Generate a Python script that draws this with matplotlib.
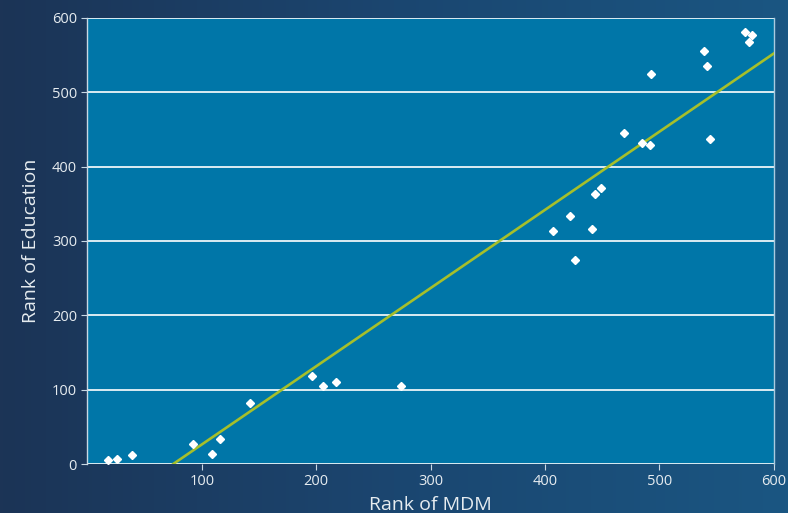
import numpy as np
import matplotlib
matplotlib.use("Agg")
import matplotlib.pyplot as plt
from matplotlib.colors import LinearSegmentedColormap

plt.rcParams['font.family'] = ['Open Sans', 'DejaVu Sans']

rank_mdm = [18, 25.5, 39, 92, 109, 116, 142, 196, 206, 217, 274,
            407, 422, 426, 441, 444, 449, 469, 485, 492, 493,
            539, 542, 544, 575, 578, 581]
rank_edu = [5.4, 6.7, 12.6, 26.5, 13.5, 34, 82, 118, 105, 110, 105,
            314, 334, 274, 316, 363, 371, 445, 432, 429, 524,
            556, 536, 437, 581, 568, 577]

x_ticks = [100, 200, 300, 400, 500, 600]
y_ticks = [0, 100, 200, 300, 400, 500, 600]

fig = plt.figure(figsize=(7.88, 5.13), dpi=100)

# background gradient
bg = fig.add_axes([0, 0, 1, 1], zorder=-10)
cmap = LinearSegmentedColormap.from_list('bg', ['#1c3456', '#1b4670', '#1a5682'])
grad = np.linspace(0, 1, 256).reshape(1, -1)
bg.imshow(grad, aspect='auto', cmap=cmap, extent=[0, 1, 0, 1])
bg.axis('off')

ax = fig.add_axes([0.111, 0.0955, 0.871, 0.8695])
ax.set_facecolor('#0076a8')

ax.set_xlim(0, 600)
ax.set_ylim(0, 600)
ax.set_xticks(x_ticks)
ax.set_yticks(y_ticks)
ax.yaxis.grid(True, color='white', lw=1.2)
ax.set_axisbelow(True)

for s in ['top', 'bottom']:
    ax.spines[s].set_visible(False)
ax.spines['left'].set_color('#c8d8e4')
ax.spines['left'].set_linewidth(1.0)
ax.spines['right'].set_color('#a9cbe0')
ax.spines['right'].set_linewidth(1.0)

ax.tick_params(axis='both', colors='#c8d8e4', labelcolor='#e6ecf0', labelsize=10.5, length=4)

# trend line (least squares)
coef = np.polyfit(rank_mdm, rank_edu, 1)
xl = np.array([-coef[1] / coef[0], 600])
ax.plot(xl, np.polyval(coef, xl), color='#a6bf2a', lw=1.9, zorder=3)

ax.plot(rank_mdm, rank_edu, linestyle='none', marker='D', ms=4.5, color='white',
        mec='white', zorder=4, clip_on=False)

ax.set_xlabel('Rank of MDM', color='#e6ecf0', fontsize=14)
ax.set_ylabel('Rank of Education', color='#e6ecf0', fontsize=14)
ax.xaxis.set_label_coords(0.5, -0.072)
ax.yaxis.set_label_coords(-0.069, 0.5)

fig.savefig('out.png', dpi=100)
